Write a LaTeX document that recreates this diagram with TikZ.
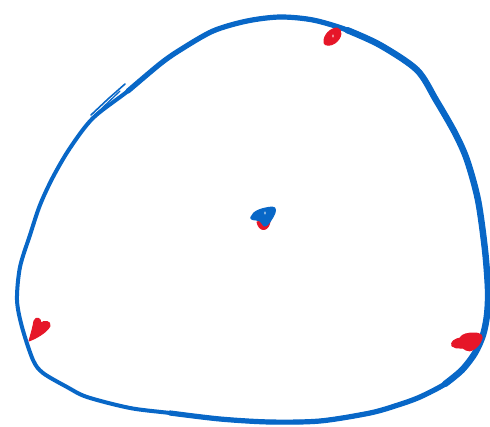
\documentclass[tikz,border=0pt]{standalone}
\definecolor{inkblue}{RGB}{8,103,199}
\definecolor{inkred}{RGB}{230,22,40}
\usetikzlibrary{calc}

\begin{document}
\begin{tikzpicture}[x=1pt, y=-1pt,
  outline/.style={draw=inkblue, line width=4pt, line cap=round, line join=round},
  redspot/.style={fill=inkred, draw=inkred, line width=1pt, line join=round},
  bluespot/.style={fill=inkblue, draw=inkblue, line width=1pt, line join=round}]
  \useasboundingbox (0,0) rectangle (490,426);

  % Hand drawn closed boundary
  \draw[outline] plot[smooth cycle, tension=0.5] coordinates {
    (280,17) (313,20) (347,30) (380,45) (417,70) (436,100) (455,133)
    (467,160) (478,200) (485,250) (488,290) (487,315) (483,335) (475,353)
    (462,370) (445,384) (420,397) (398,405) (370,413) (320,421) (270,422)
    (220,419) (170,413) (130,408) (87,397) (67,387) (43,373) (33,360)
    (22,327) (17,300) (20,267) (30,235) (40,205) (53,177) (70,148)
    (93,118) (128,91) (160,64) (180,50) (213,31) (247,21)};
  % heavier pen pressure on the right
  \draw[outline, line width=5.2pt] plot[smooth, tension=0.5] coordinates {
    (128,91) (160,64) (180,50) (213,31) (247,21) (280,17) (313,20) (347,30)
    (380,45) (417,70) (436,100) (455,133) (467,160) (478,200) (485,250)
    (488,290) (487,315) (483,335) (475,353) (462,370) (445,384) (420,397)
    (398,405) (370,413) (320,421) (270,422) (220,419) (170,413)};
  \draw[outline, line width=6.4pt] plot[smooth, tension=0.5] coordinates {
    (347,30) (380,45) (417,70) (436,100) (455,133) (467,160) (478,200)
    (485,250) (488,290) (487,315) (483,335) (475,353) (462,370) (445,384)};
  % pen start stroke
  \draw[draw=inkblue, line width=1.6pt, line cap=round] (91,115) -- (108,99) -- (125,84);
  \draw[draw=inkblue, line width=1.3pt, line cap=round] (96,114) -- (120,91);
  \draw[draw=inkblue, line width=2pt, line cap=round] (316,21) -- (321,23);

  % Red spots on the boundary
  \coordinate (top) at (332,38);
  \coordinate (left) at (39,330);
  \coordinate (right) at (468,341);
  \fill[redspot] (324,43) .. controls (323,35) and (331,28) .. (337,28)
    .. controls (343,29) and (342,38) .. (335,43) .. controls (331,46) and (325,46) .. (324,43) -- cycle;
  \fill[white] (333,36) ellipse (0.7pt and 1.6pt);
  \fill[redspot] (29,341) .. controls (31,334) and (33,327) .. (34,321)
    .. controls (36,316) and (41,318) .. (41,323) .. controls (44,320) and (51,321) .. (50,326)
    .. controls (47,332) and (37,338) .. (29,341) -- cycle;
  \fill[redspot] (452,346) .. controls (450,342) and (455,339) .. (460,338)
    .. controls (462,334) and (468,333) .. (474,333) .. controls (481,333) and (484,336) .. (481,341)
    .. controls (478,348) and (470,353) .. (466,350) .. controls (463,346) and (457,350) .. (452,346) -- cycle;

  % Centre spot
  \coordinate (centre) at (264,217);
  \fill[redspot] (257,222) .. controls (259,232) and (268,232) .. (270,222) -- (264,220) -- cycle;
  \fill[bluespot] (251,217) .. controls (253,211) and (262,208) .. (272,207)
    .. controls (277,207) and (276,212) .. (273,217) .. controls (270,222) and (267,227) .. (264,226)
    .. controls (261,224) and (262,220) .. (256,220) .. controls (253,220) and (250,219) .. (251,217) -- cycle;
  \fill[white] (265,213) ellipse (0.7pt and 1.6pt);
\end{tikzpicture}
\end{document}
